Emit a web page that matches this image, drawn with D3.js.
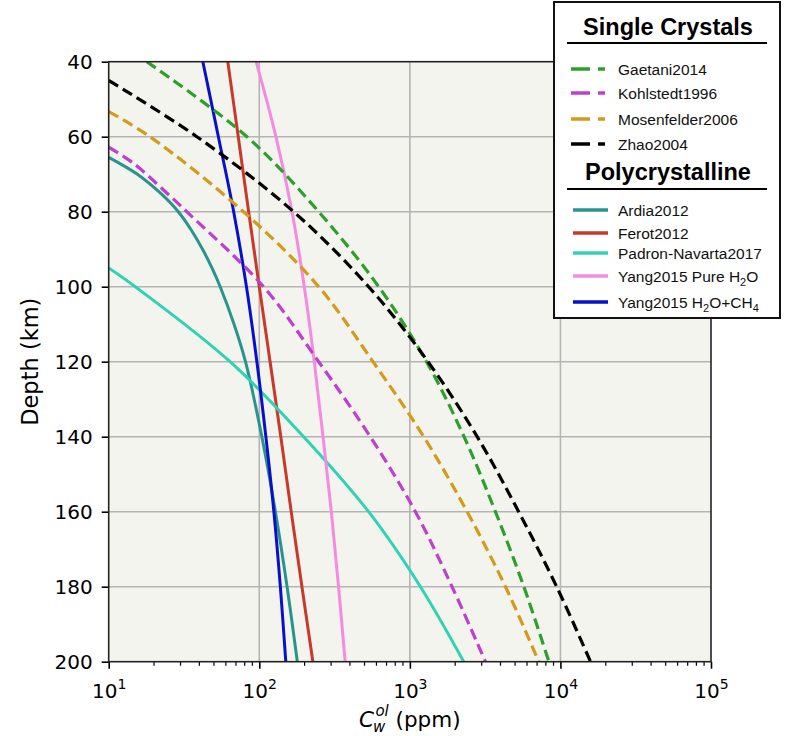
<!DOCTYPE html>
<html>
<head>
<meta charset="utf-8">
<script src="https://cdn.jsdelivr.net/npm/d3@7"></script>
<style>
  html, body { margin: 0; padding: 0; background: #ffffff; }
  svg { display: block; }
</style>
</head>
<body>
<svg id="chart" width="785" height="736"></svg>
<script>
// Depth (km) and water content C_w (ppm) for each olivine solubility model
const gaetaniDepth = [40, 60, 80, 100, 120, 140, 160, 180, 200];
const gaetaniVal   = [17.9, 82.8, 248, 621, 1290, 2290, 3700, 5716, 8380];

const kohlstedtDepth = [62.8, 67, 75, 80, 100, 120, 140, 160, 180, 200];
const kohlstedtVal   = [10, 14.5, 24.3, 33, 106.7, 248, 546, 1089, 1906, 3176];

const mosenfelderDepth = [53.3, 60, 80, 100, 120, 140, 160, 180, 200];
const mosenfelderVal   = [10, 18.8, 78.5, 248, 569, 1236, 2400, 4315, 7180];

const zhaoDepth = [45, 60, 80, 100, 120, 140, 160, 180, 200];
const zhaoVal   = [10, 38.5, 169, 532, 1320, 2800, 5280, 9440, 15850];

const ardiaDepth = [65.5, 70, 75, 80, 85, 90, 95, 100, 110, 120, 140, 160, 180, 200];
const ardiaVal   = [10, 15.5, 22, 29, 35.5, 42, 48.5, 55, 68, 81, 104, 128, 153, 179];

const ferotDepth = [40, 60, 80, 100, 120, 140, 160, 180, 200];
const ferotVal   = [61.8, 72.5, 85, 100, 118, 139, 163, 192, 227];

const padronDepth = [95, 100, 120, 140, 160, 180, 200];
const padronVal   = [10, 15, 64, 197, 532, 1175, 2280];

const yangPureDepth = [40, 60, 80, 100, 120, 140, 160, 180, 200];
const yangPureVal   = [95.3, 129, 165, 199, 232, 265, 301, 336, 372];

const yangCH4Depth = [40, 60, 80, 100, 120, 140, 160, 180, 200];
const yangCH4Val   = [42.2, 53.5, 67.6, 82.2, 96.4, 110.6, 125, 138, 150];

const xTicks = [1e1, 1e2, 1e3, 1e4, 1e5];
const yTicks = [40, 60, 80, 100, 120, 140, 160, 180, 200];

const singleCrystals = [
  { name: "Gaetani2014",     color: "#2ca02c", depth: gaetaniDepth,     val: gaetaniVal },
  { name: "Kohlstedt1996",   color: "#bf3fd0", depth: kohlstedtDepth,   val: kohlstedtVal },
  { name: "Mosenfelder2006", color: "#d49a1a", depth: mosenfelderDepth, val: mosenfelderVal },
  { name: "Zhao2004",        color: "#000000", depth: zhaoDepth,        val: zhaoVal }
];
const polycrystalline = [
  { name: "Ardia2012",          color: "#27948f", depth: ardiaDepth,    val: ardiaVal },
  { name: "Ferot2012",          color: "#c8382b", depth: ferotDepth,    val: ferotVal },
  { name: "Padron-Navarta2017", color: "#2fd3b4", depth: padronDepth,   val: padronVal },
  { name: "Yang2015 Pure H2O",  color: "#f58be0", depth: yangPureDepth, val: yangPureVal },
  { name: "Yang2015 H2O+CH4",   color: "#0a10c8", depth: yangCH4Depth,  val: yangCH4Val }
];

const svg = d3.select("#chart");
const plotL = 108.7, plotR = 711, plotT = 61.7, plotB = 661.7;

const x = d3.scaleLog().domain([10, 1e5]).range([plotL, plotR]);
const y = d3.scaleLinear().domain([40, 200]).range([plotT, plotB]);

// plot background
svg.append("rect").attr("x", plotL).attr("y", plotT)
  .attr("width", plotR - plotL).attr("height", plotB - plotT)
  .attr("fill", "#f4f4ee");

// grid
const grid = svg.append("g").attr("stroke", "#b4b4b4").attr("stroke-width", 1.6);
grid.selectAll("line.gx").data(xTicks.slice(1, -1)).join("line")
  .attr("x1", d => x(d)).attr("x2", d => x(d)).attr("y1", plotT).attr("y2", plotB);
grid.selectAll("line.gy").data(yTicks.slice(1, -1)).join("line")
  .attr("y1", d => y(d)).attr("y2", d => y(d)).attr("x1", plotL).attr("x2", plotR);

// curves
svg.append("clipPath").attr("id", "plotClip").append("rect")
  .attr("x", plotL).attr("y", plotT).attr("width", plotR - plotL).attr("height", plotB - plotT);

const line = d3.line()
  .x(d => x(d[1])).y(d => y(d[0]))
  .curve(d3.curveCatmullRom.alpha(0.5));

const curves = svg.append("g").attr("clip-path", "url(#plotClip)").attr("fill", "none");
polycrystalline.forEach(s => {
  curves.append("path").datum(d3.zip(s.depth, s.val))
    .attr("d", line).attr("stroke", s.color).attr("stroke-width", 3);
});
singleCrystals.forEach(s => {
  curves.append("path").datum(d3.zip(s.depth, s.val))
    .attr("d", line).attr("stroke", s.color).attr("stroke-width", 3.2)
    .attr("stroke-dasharray", "11,5.5");
});

// axes
const tickFont = "DejaVu Sans, sans-serif";
const xAxis = d3.axisBottom(x).tickValues(xTicks).tickSize(7).tickSizeOuter(0).tickPadding(6)
  .tickFormat("");
const gx = svg.append("g").attr("transform", `translate(0,${plotB})`).call(xAxis);
gx.select(".domain").remove();
gx.selectAll(".tick line").attr("stroke", "#000").attr("stroke-width", 1.6);

// minor log ticks
const minor = [];
for (let e = 1; e < 5; e++) for (let m = 2; m <= 9; m++) minor.push(m * Math.pow(10, e));
svg.append("g").selectAll("line").data(minor).join("line")
  .attr("x1", d => x(d)).attr("x2", d => x(d))
  .attr("y1", plotB).attr("y2", plotB + 4)
  .attr("stroke", "#000").attr("stroke-width", 1.2);

// x tick labels as 10 with superscript exponent
gx.selectAll(".tick").each(function(d) {
  const t = d3.select(this).append("text")
    .attr("y", 36).attr("fill", "#000")
    .attr("font-family", tickFont).attr("font-size", 20)
    .attr("text-anchor", "middle");
  t.append("tspan").text("10");
  t.append("tspan").attr("dy", -9).attr("font-size", 14).text(Math.round(Math.log10(d)));
});

const yAxis = d3.axisLeft(y).tickValues(yTicks).tickSize(7).tickSizeOuter(0).tickPadding(9);
const gy = svg.append("g").attr("transform", `translate(${plotL},0)`).call(yAxis);
gy.select(".domain").remove();
gy.selectAll(".tick line").attr("stroke", "#000").attr("stroke-width", 1.6);
gy.selectAll(".tick text").attr("font-family", tickFont).attr("font-size", 20).attr("fill", "#000");

// frame
svg.append("rect").attr("x", plotL).attr("y", plotT)
  .attr("width", plotR - plotL).attr("height", plotB - plotT)
  .attr("fill", "none").attr("stroke", "#222").attr("stroke-width", 1.6);

// axis titles
svg.append("text")
  .attr("transform", `translate(38,${(plotT + plotB) / 2}) rotate(-90)`)
  .attr("text-anchor", "middle")
  .attr("font-family", tickFont).attr("font-size", 22.5).attr("fill", "#000")
  .text("Depth (km)");

const xl = svg.append("text")
  .attr("x", (plotL + plotR) / 2).attr("y", 727)
  .attr("text-anchor", "middle")
  .attr("font-family", tickFont).attr("font-size", 21.5).attr("fill", "#000");
xl.append("tspan").attr("font-style", "italic").text("C");
xl.append("tspan").attr("font-style", "italic").attr("font-size", 15).attr("dy", 5).attr("dx", -1).text("w");
xl.append("tspan").attr("font-style", "italic").attr("font-size", 15).attr("dy", -16).attr("dx", -10).text("ol");
xl.append("tspan").attr("dy", 11).text(" (ppm)");

// legend
const legendFont = "Liberation Sans, Arial, sans-serif";
const lg = svg.append("g");
lg.append("rect").attr("x", 554).attr("y", 2).attr("width", 226).attr("height", 316)
  .attr("fill", "#ffffff").attr("stroke", "#111").attr("stroke-width", 2);

function header(text, yBase, yRule) {
  lg.append("text").attr("x", 668).attr("y", yBase).attr("text-anchor", "middle")
    .attr("font-family", legendFont).attr("font-weight", "bold").attr("font-size", 23.5)
    .attr("fill", "#000").text(text);
  lg.append("line").attr("x1", 567).attr("x2", 767).attr("y1", yRule).attr("y2", yRule)
    .attr("stroke", "#000").attr("stroke-width", 2);
}

function label(t, name) {
  const m = name.match(/^(.*?)(H2O)(\+CH4)?$/);
  if (!m) { t.text(name); return; }
  t.append("tspan").text(m[1] + "H");
  t.append("tspan").attr("font-size", 11).attr("dy", 4).text("2");
  t.append("tspan").attr("dy", -4).text(m[3] ? "O+CH" : "O");
  if (m[3]) t.append("tspan").attr("font-size", 11).attr("dy", 4).text("4");
}

header("Single Crystals", 35, 43);
const scY = [69, 93, 119, 144];
singleCrystals.forEach((s, i) => {
  lg.append("line").attr("x1", 571).attr("x2", 605).attr("y1", scY[i]).attr("y2", scY[i])
    .attr("stroke", s.color).attr("stroke-width", 3.5).attr("stroke-dasharray", "19,8");
  const t = lg.append("text").attr("x", 618).attr("y", scY[i] + 5.5)
    .attr("font-family", legendFont).attr("font-size", 15.5).attr("fill", "#111");
  label(t, s.name);
});

header("Polycrystalline", 180, 189);
const pcY = [210, 233, 253, 276, 302];
polycrystalline.forEach((s, i) => {
  lg.append("line").attr("x1", 573).attr("x2", 608).attr("y1", pcY[i]).attr("y2", pcY[i])
    .attr("stroke", s.color).attr("stroke-width", 3.5);
  const t = lg.append("text").attr("x", 618).attr("y", pcY[i] + 5.5)
    .attr("font-family", legendFont).attr("font-size", 15.5).attr("fill", "#111");
  label(t, s.name);
});
</script>
</body>
</html>
